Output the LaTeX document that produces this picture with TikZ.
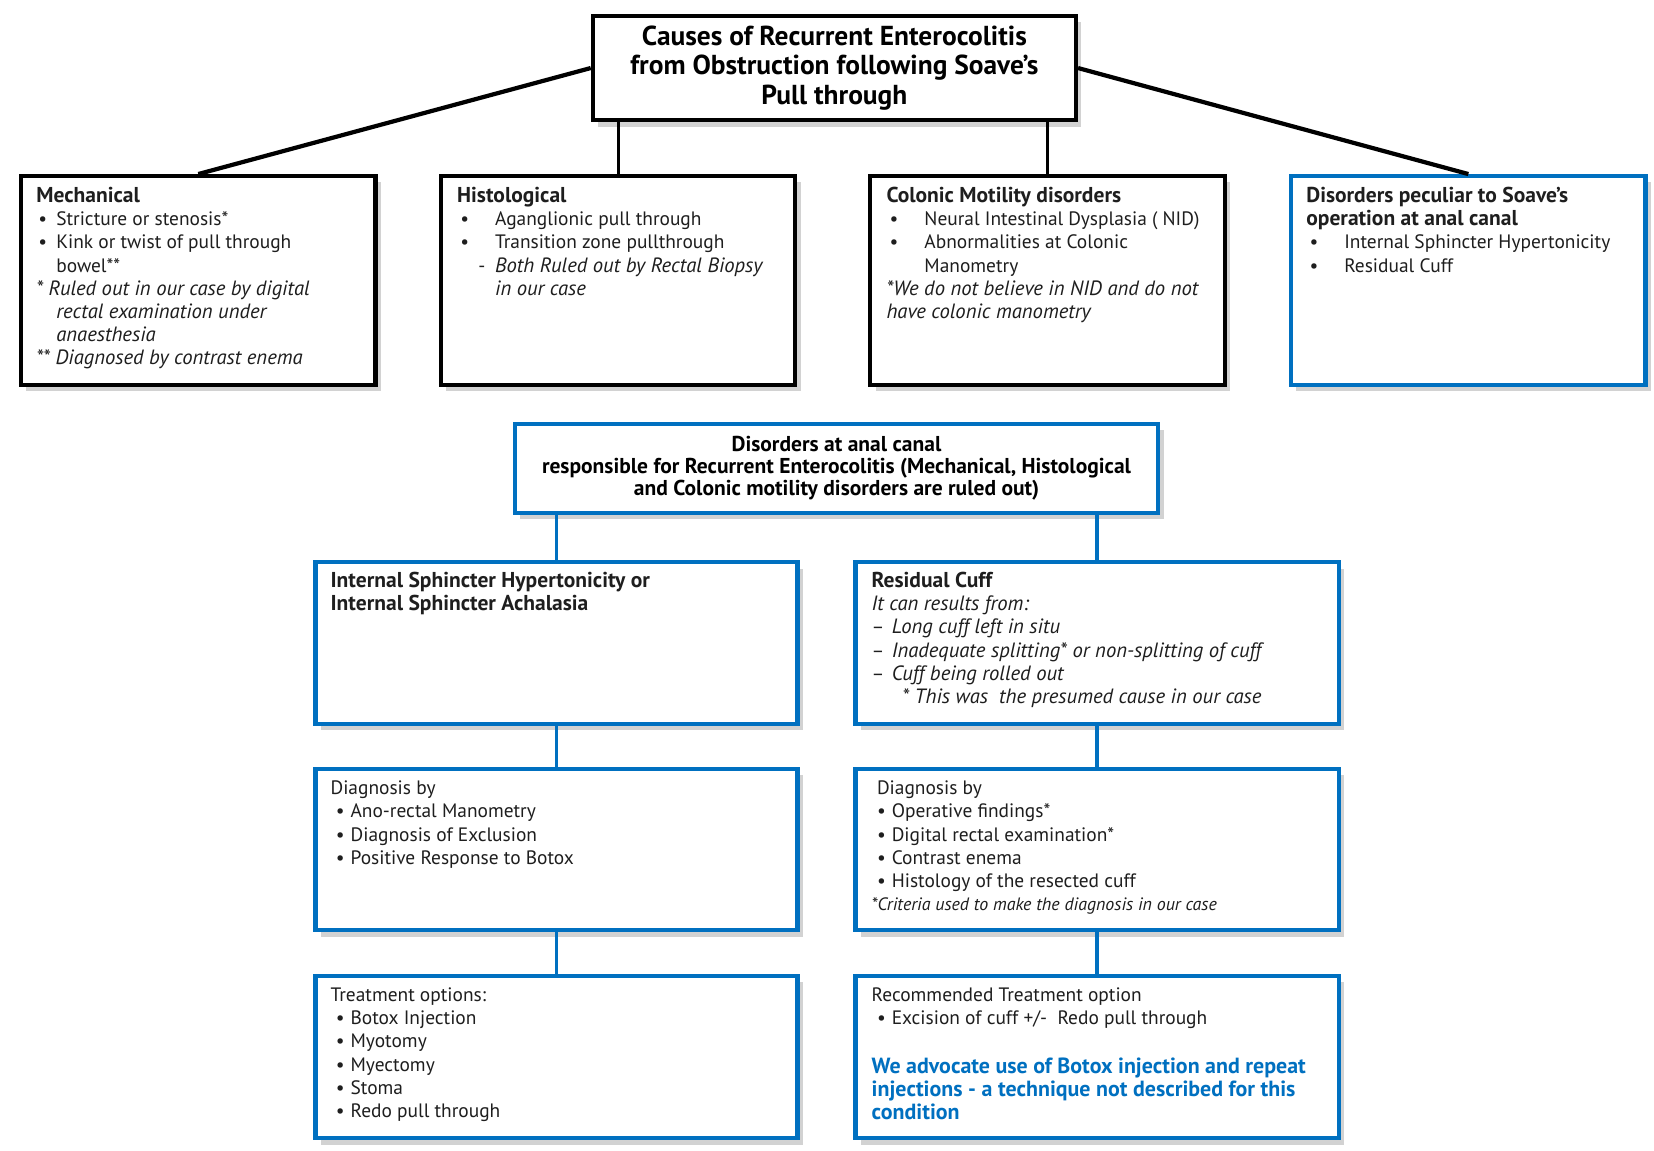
\documentclass[tikz,border=0pt]{standalone}
\usepackage{fontspec}
\setmainfont{PT Sans}
\usetikzlibrary{shadows}
\definecolor{bblue}{RGB}{0,112,192}
\definecolor{tgrey}{RGB}{30,30,30}
\newcommand\bu[2]{\hspace*{#1}\makebox[#2][l]{•}}
\newcommand\myb[1]{{\fontsize{10.2pt}{11pt}\selectfont\bfseries #1}}
\newcommand\myi[1]{{\fontsize{9.8pt}{11pt}\selectfont\itshape #1}}
\tikzset{
  box/.style={draw=black, line width=2pt, fill=white, inner sep=0pt, anchor=north west,
    drop shadow={shadow xshift=2.5pt, shadow yshift=-3pt, fill=black!35, opacity=0.5}},
  bbox/.style={box, draw=bblue},
  txt/.style={anchor=north west, inner sep=0pt, align=left, text=tgrey,
    font=\fontsize{9.2pt}{11pt}\selectfont},
  blk/.style={line width=2pt, draw=black},
  blkthin/.style={line width=1.5pt, draw=black},
  blu/.style={line width=1.5pt, draw=bblue},
}
\begin{document}
\begin{tikzpicture}[x=0.5pt,y=-0.5pt]
\fill[white] (0,0) rectangle (1568,1091);
\useasboundingbox (0,0) rectangle (1568,1091);

% top
\node[box, minimum width=229pt, minimum height=49.5pt, align=center,
  font=\bfseries\fontsize{13pt}{13.8pt}\selectfont] (top) at (560,13)
  {Causes of Recurrent Enterocolitis\\from Obstruction following Soave’s\\Pull through};

% row 1
\node[box, minimum width=168pt, minimum height=99pt] (mech) at (18,165) {};
\node[box, minimum width=168pt, minimum height=99pt] (hist) at (416,165) {};
\node[box, minimum width=168pt, minimum height=99pt] (col) at (823,165) {};
\node[bbox, minimum width=168pt, minimum height=99pt] (pec) at (1222,165) {};

\node[txt] (mecht) at (34,177) {\myb{Mechanical}\\
\bu{1pt}{8.5pt}Stricture or stenosis*\\
\bu{1pt}{8.5pt}Kink or twist of pull through\\
\hspace*{9.5pt}bowel**\\
\myi{* Ruled out in our case by digital}\\
\hspace*{9.5pt}\myi{rectal examination under}\\
\hspace*{9.5pt}\myi{anaesthesia}\\
\myi{** Diagnosed by contrast enema}};

\node[txt] (histt) at (433,177) {\myb{Histological}\\
\bu{1.5pt}{16.5pt}Aganglionic pull through\\
\bu{1.5pt}{16.5pt}Transition zone pullthrough\\
\hspace*{10pt}\makebox[8pt][l]{-}\myi{Both Ruled out by Rectal Biopsy}\\
\hspace*{18pt}\myi{in our case}};

\node[txt] (colt) at (840,177) {\myb{Colonic Motility disorders}\\
\bu{1.5pt}{16.5pt}Neural Intestinal Dysplasia ( NID)\\
\bu{1.5pt}{16.5pt}Abnormalities at Colonic\\
\hspace*{18pt}Manometry\\
\myi{*We do not believe in NID and do not}\\
\myi{have colonic manometry}};

\node[txt] (pect) at (1238,177) {\myb{Disorders peculiar to Soave’s}\\
\myb{operation at anal canal}\\
\bu{1.5pt}{16.5pt}Internal Sphincter Hypertonicity\\
\bu{1.5pt}{16.5pt}Residual Cuff};

% middle
\node[bbox, minimum width=305pt, minimum height=42pt, align=center,
  font=\bfseries\fontsize{10.2pt}{10.5pt}\selectfont] (mid) at (486,400)
  {Disorders at anal canal\\responsible for Recurrent Enterocolitis (Mechanical, Histological\\and Colonic motility disorders are ruled out)};

% row 2
\node[bbox, minimum width=228.5pt, minimum height=76.5pt] (isa) at (297,531) {};
\node[bbox, minimum width=229pt, minimum height=76.5pt] (cuff) at (809,531) {};
\node[txt] (isat) at (313,542) {\myb{Internal Sphincter Hypertonicity or}\\
\myb{Internal Sphincter Achalasia}};
\node[txt] (cufft) at (826,542) {\myb{Residual Cuff}\\
\myi{It can results from:}\\
\makebox[9.5pt][l]{–}\myi{Long cuff left in situ}\\
\makebox[9.5pt][l]{–}\myi{Inadequate splitting* or non-splitting of cuff}\\
\makebox[9.5pt][l]{–}\myi{Cuff being rolled out}\\
\hspace*{14.5pt}\myi{* This was\ \ the presumed cause in our case}};

% row 3
\node[bbox, minimum width=228.5pt, minimum height=76.5pt] (diagl) at (297,727) {};
\node[bbox, minimum width=229pt, minimum height=76.5pt] (diagr) at (809,727) {};
\node[txt] (diaglt) at (313,740) {Diagnosis by\\
\bu{2.5pt}{7pt}Ano-rectal Manometry\\
\bu{2.5pt}{7pt}Diagnosis of Exclusion\\
\bu{2.5pt}{7pt}Positive Response to Botox};
\node[txt] (diagrt) at (826,740) {\hspace*{2.5pt}Diagnosis by\\
\bu{2.5pt}{7pt}Operative findings*\\
\bu{2.5pt}{7pt}Digital rectal examination*\\
\bu{2.5pt}{7pt}Contrast enema\\
\bu{2.5pt}{7pt}Histology of the resected cuff\\
{\fontsize{8.5pt}{11pt}\selectfont\itshape *Criteria used to make the diagnosis in our case}};

% row 4
\node[bbox, minimum width=228.5pt, minimum height=77pt] (treatl) at (297,923) {};
\node[bbox, minimum width=229pt, minimum height=77pt] (treatr) at (809,923) {};
\node[txt] (treatlt) at (313,936) {Treatment options:\\
\bu{2.5pt}{7pt}Botox Injection\\
\bu{2.5pt}{7pt}Myotomy\\
\bu{2.5pt}{7pt}Myectomy\\
\bu{2.5pt}{7pt}Stoma\\
\bu{2.5pt}{7pt}Redo pull through};
\node[txt] (treatrt) at (826,936) {Recommended Treatment option\\
\bu{2.5pt}{7pt}Excision of cuff +/-\ \ Redo pull through\\[12pt]
{\color{bblue}\fontsize{10.4pt}{11pt}\selectfont\bfseries We advocate use of Botox injection and repeat}\\
{\color{bblue}\fontsize{10.4pt}{11pt}\selectfont\bfseries injections - a technique not described for this}\\
{\color{bblue}\fontsize{10.4pt}{11pt}\selectfont\bfseries condition}};

% connectors
\draw[blk] (top.west) -- (mech.north);
\draw[blk] (top.east) -- (pec.north);
\draw[blkthin] (hist.north |- top.south) -- (hist.north);
\draw[blkthin] (col.north |- top.south) -- (col.north);
\draw[blu] (isa.north |- mid.south) -- (isa.north);
\draw[blu] (cuff.north |- mid.south) -- (cuff.north);
\draw[blu] (isa.south) -- (diagl.north);
\draw[blu] (cuff.south) -- (diagr.north);
\draw[blu] (diagl.south) -- (treatl.north);
\draw[blu] (diagr.south) -- (treatr.north);
\end{tikzpicture}
\end{document}
